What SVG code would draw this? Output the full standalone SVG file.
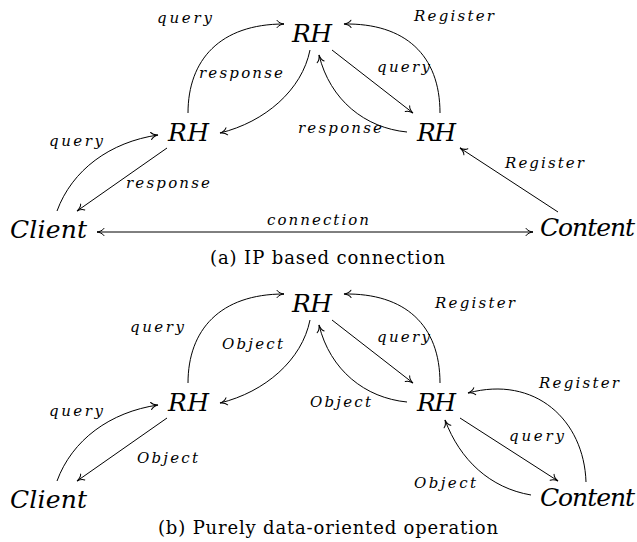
<svg xmlns="http://www.w3.org/2000/svg" width="637" height="542" viewBox="0 0 637 542">
<defs>
  <marker id="arr" markerUnits="userSpaceOnUse" viewBox="-8 -5 10 10" refX="0" refY="0" markerWidth="10" markerHeight="10" orient="auto-start-reverse">
    <path d="M-7,-3.6 C-5.5,-1.3 -2.5,-0.3 0,0 C-2.5,0.3 -5.5,1.3 -7,3.6" fill="none" stroke="#000" stroke-width="1" stroke-linecap="round"/>
  </marker>
</defs>
<rect width="637" height="542" fill="#fff"/>

<g id="connectors" fill="none" stroke="#000" stroke-width="1" marker-end="url(#arr)">
  <path d="M188,113 C188,60 220,24 284,24"/>
  <path d="M310,50 C302,90 265,122 220,133"/>
  <path d="M57,211 C72,170 110,142 158,135"/>
  <path d="M167,148 L77,211"/>
  <path d="M332,50 L413,113"/>
  <path d="M407,132 C365,128 330,100 319,55"/>
  <path d="M440,113 C440,55 405,23 344,24"/>
  <path d="M558,212 L460,148"/>
  <path d="M97,232 L533,232" marker-start="url(#arr)"/>
  <path d="M188,383 C188,330 220,294 284,294"/>
  <path d="M310,320 C302,360 265,392 220,403"/>
  <path d="M57,481 C72,440 110,412 158,405"/>
  <path d="M167,418 L77,481"/>
  <path d="M332,320 L413,383"/>
  <path d="M407,402 C365,398 330,370 319,325"/>
  <path d="M440,383 C440,325 405,293 344,294"/>
  <path d="M586,482 C584,420 535,375 468,393"/>
  <path d="M460,418 L558,481"/>
  <path d="M531,495 C490,488 460,460 445,420"/>
</g>

<g id="edge-labels" font-family="DejaVu Serif, serif" font-style="italic" font-size="15" fill="#000">
  <text x="157" y="23" textLength="55" lengthAdjust="spacing">query</text>
  <text x="199" y="78" textLength="84" lengthAdjust="spacing">response</text>
  <text x="49" y="146" textLength="54" lengthAdjust="spacing">query</text>
  <text x="126" y="188" textLength="84" lengthAdjust="spacing">response</text>
  <text x="414" y="21" textLength="80" lengthAdjust="spacing">Register</text>
  <text x="377" y="72" textLength="53" lengthAdjust="spacing">query</text>
  <text x="298" y="133" textLength="84" lengthAdjust="spacing">response</text>
  <text x="505" y="168" textLength="79" lengthAdjust="spacing">Register</text>
  <text x="267" y="225" textLength="102" lengthAdjust="spacing">connection</text>
  <text x="130" y="332" textLength="54" lengthAdjust="spacing">query</text>
  <text x="222" y="349" textLength="61" lengthAdjust="spacing">Object</text>
  <text x="49" y="416" textLength="54" lengthAdjust="spacing">query</text>
  <text x="137" y="463" textLength="61" lengthAdjust="spacing">Object</text>
  <text x="435" y="308" textLength="80" lengthAdjust="spacing">Register</text>
  <text x="377" y="342" textLength="53" lengthAdjust="spacing">query</text>
  <text x="310" y="407" textLength="61" lengthAdjust="spacing">Object</text>
  <text x="539" y="388" textLength="80" lengthAdjust="spacing">Register</text>
  <text x="509" y="441" textLength="55" lengthAdjust="spacing">query</text>
  <text x="414" y="488" textLength="62" lengthAdjust="spacing">Object</text>
</g>

<g font-family="DejaVu Serif, serif" font-style="italic" font-size="25" fill="#000">
<g id="a-rh-top"><text x="292" y="42" textLength="40" lengthAdjust="spacing">RH</text></g>
<g id="a-rh-left"><text x="168" y="141" textLength="41" lengthAdjust="spacing">RH</text></g>
<g id="a-rh-right"><text x="417" y="141" textLength="39" lengthAdjust="spacing">RH</text></g>
<g id="a-client"><text x="10" y="238" textLength="77" lengthAdjust="spacing">Client</text></g>
<g id="a-content"><text x="540" y="236" textLength="95" lengthAdjust="spacing">Content</text></g>
<g id="b-rh-top"><text x="292" y="312" textLength="40" lengthAdjust="spacing">RH</text></g>
<g id="b-rh-left"><text x="168" y="411" textLength="41" lengthAdjust="spacing">RH</text></g>
<g id="b-rh-right"><text x="417" y="411" textLength="39" lengthAdjust="spacing">RH</text></g>
<g id="b-client"><text x="10" y="508" textLength="77" lengthAdjust="spacing">Client</text></g>
<g id="b-content"><text x="540" y="506" textLength="95" lengthAdjust="spacing">Content</text></g>
</g>

<g id="captions" font-family="DejaVu Serif, serif" font-size="18" fill="#000">
  <text x="210" y="264" textLength="235" lengthAdjust="spacing">(a) IP based connection</text>
  <text x="158" y="534" textLength="340" lengthAdjust="spacing">(b) Purely data-oriented operation</text>
</g>
</svg>
